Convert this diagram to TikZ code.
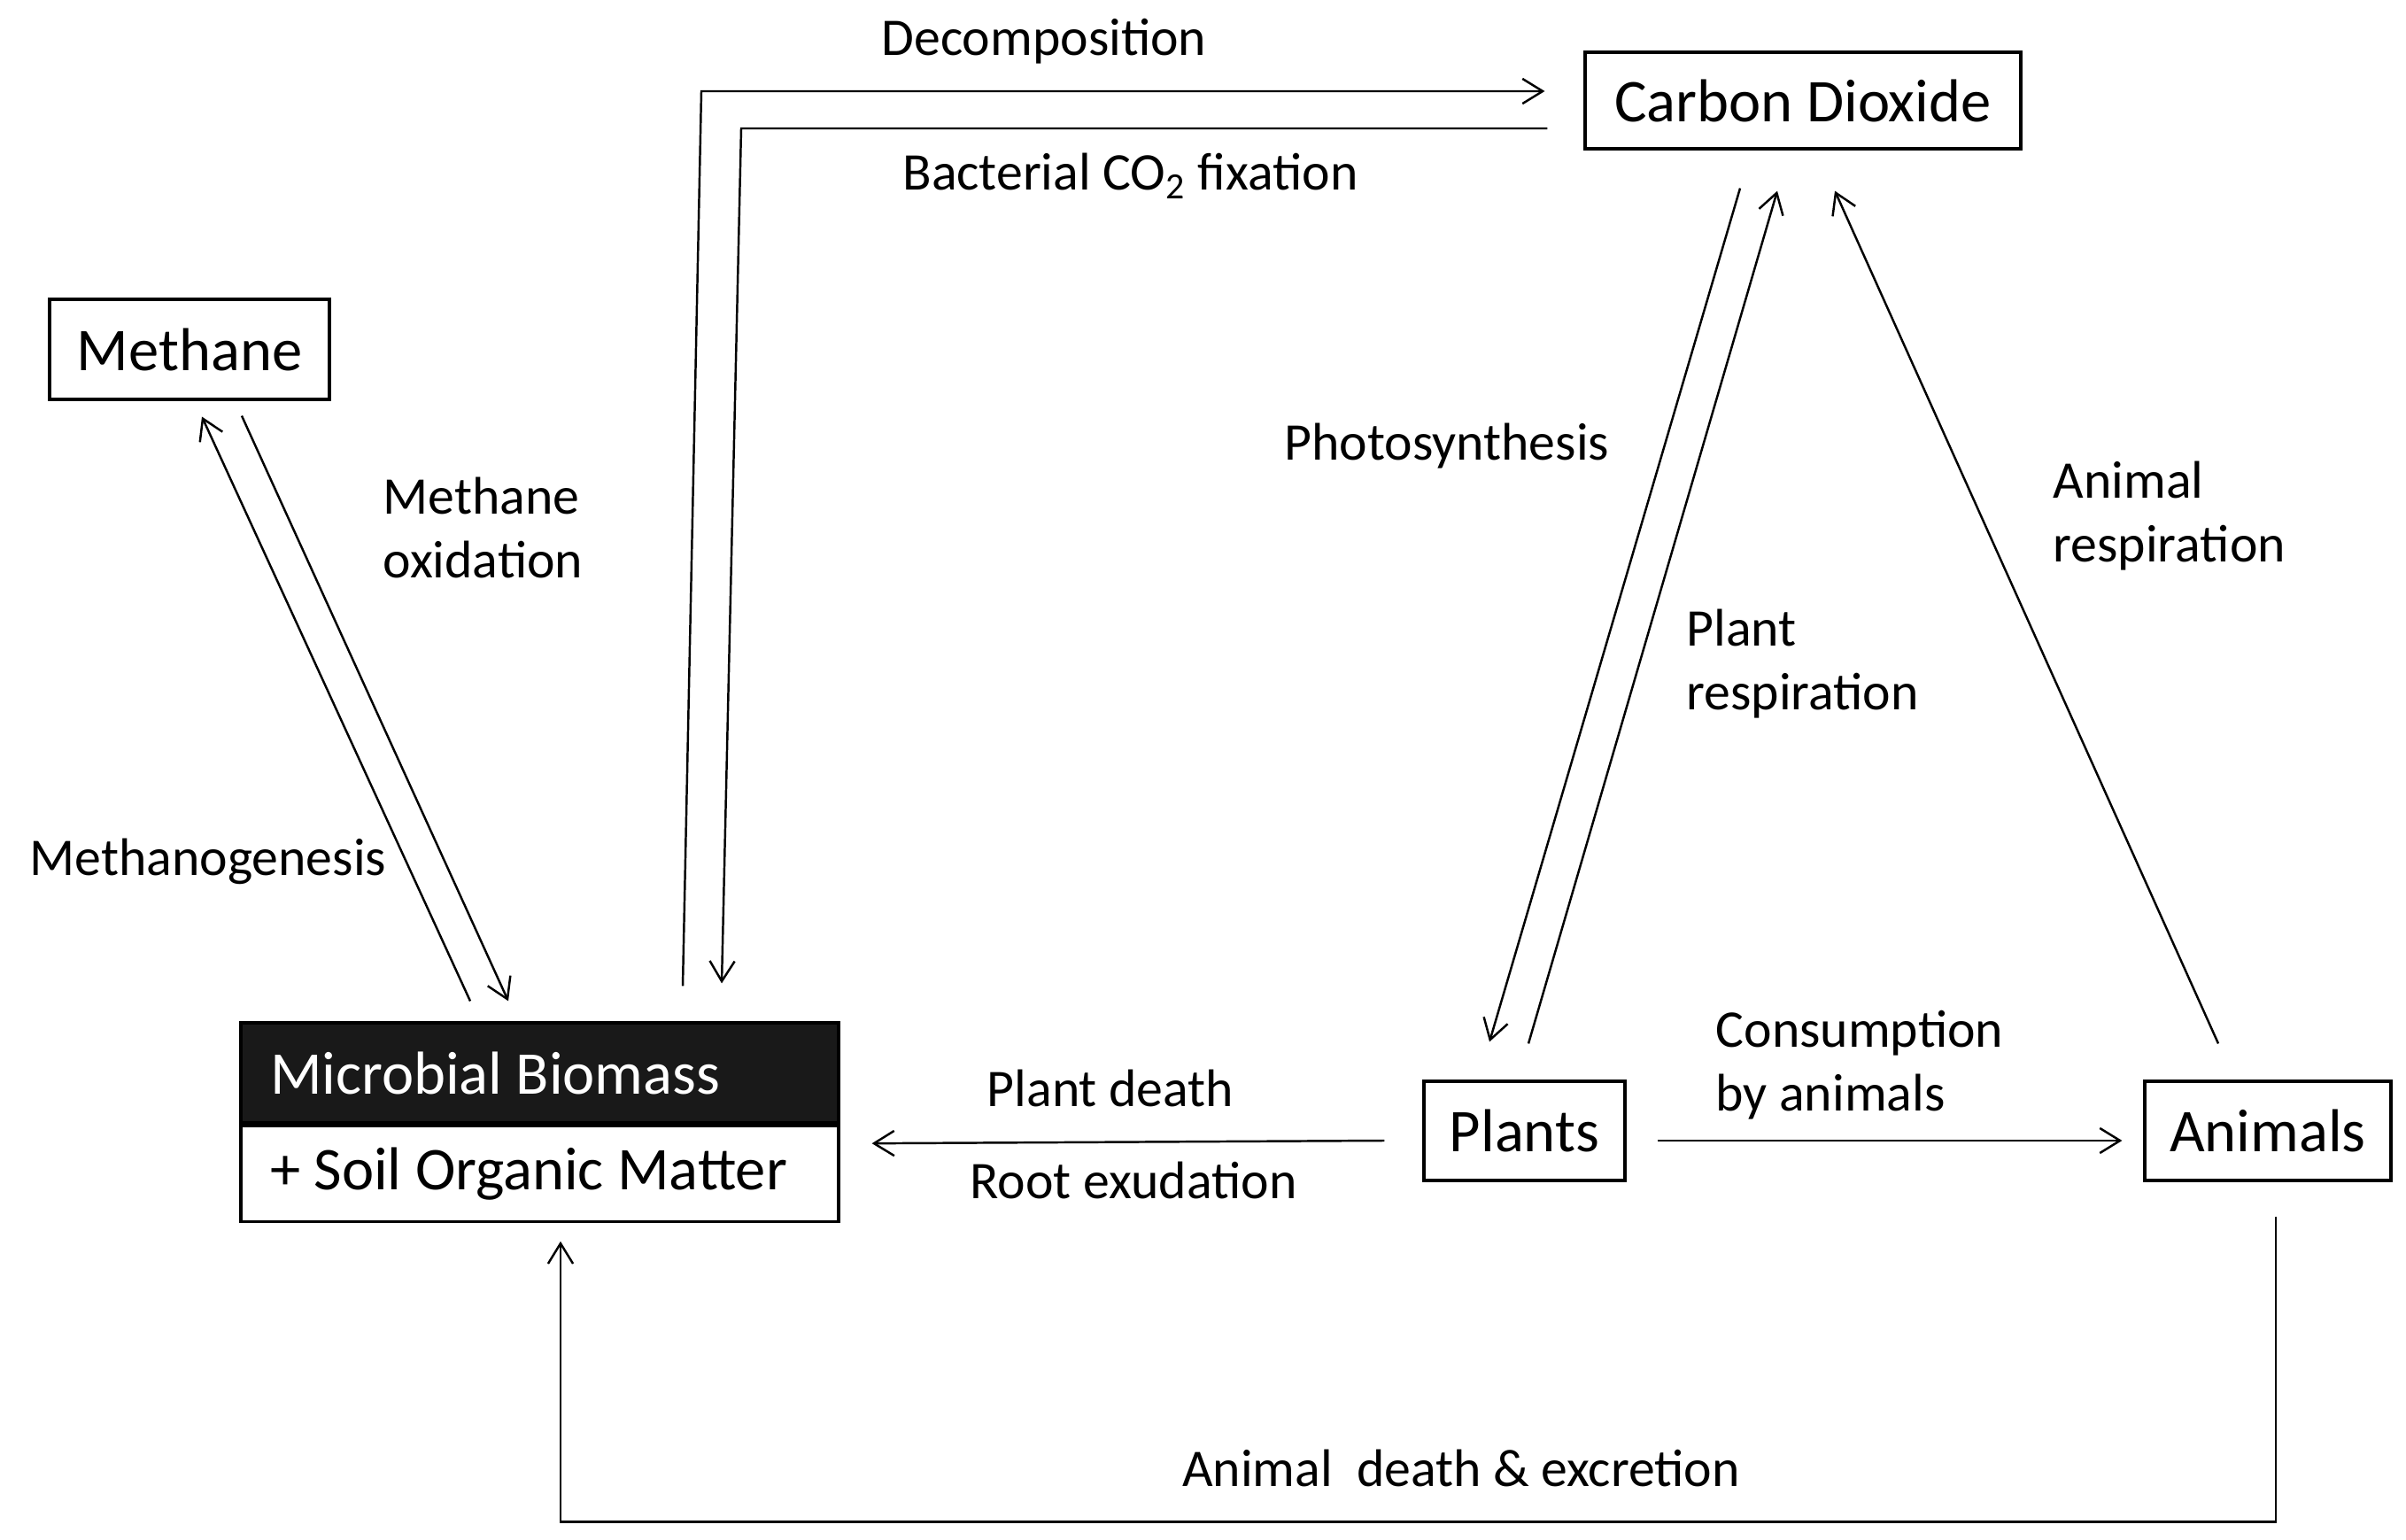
\documentclass[tikz,border=0pt]{standalone}
\usepackage{fontspec}
\setmainfont{Carlito}
\usepackage{tikz}
\usetikzlibrary{positioning}
\usetikzlibrary{calc,arrows.meta}

\tikzset{
	pool/.style={draw=black,line width=0.9pt,inner sep=0pt,font=\fontsize{19.5}{23}\selectfont},
	flow/.style={line width=0.7pt,-{Straight Barb[length=6.5pt,width=8pt,line width=0.7pt]}},
	lbl/.style={inner sep=0pt,align=left,font=\fontsize{17}{20.5}\selectfont}
}
\newcommand{\poolline}[1]{\makebox[6.09cm][l]{#1}}

\begin{document}
\begin{tikzpicture}
		\useasboundingbox (0,0) rectangle (27.17,-17.39);
		% pools
		\node[pool,minimum width=3.16cm,minimum height=1.13cm] (methane) at (2.14,-3.945) {Methane};
		\node[pool,minimum width=4.92cm,minimum height=1.09cm] (co2) at (20.36,-1.135) {Carbon Dioxide};
		\node[pool,fill=black!90,text=white,minimum width=6.75cm,minimum height=1.13cm] (mbtop) at (6.095,-12.115) {\poolline{Microbial Biomass}};
		\node[pool,minimum width=6.75cm,minimum height=1.08cm,below=0pt of mbtop] (mbsoil) {\poolline{+ Soil Organic Matter}};
		\node[pool,minimum width=2.27cm,minimum height=1.12cm] (plants) at (17.215,-12.77) {Plants};
		\node[pool,minimum width=2.78cm,minimum height=1.12cm] (animals) at (25.61,-12.77) {Animals};
		% soil <-> atmosphere
		\draw [flow] ($(mbtop.north)+(1.615cm,0.40cm)$) -- (7.92,-1.03) -- ($(co2.west)+(-0.44cm,0.105cm)$);
		\draw [flow] ($(co2.west)+(-0.41cm,-0.315cm)$) -- (8.37,-1.45) -- ($(mbtop.north)+(2.055cm,0.43cm)$);
		\draw [flow] ($(mbtop.north)+(-0.785cm,0.23cm)$) -- ($(methane.south)+(0.14cm,-0.18cm)$);
		\draw [flow] ($(methane.south)+(0.59cm,-0.17cm)$) -- ($(mbtop.north)+(-0.355cm,0.23cm)$);
		% plants and animals
		\draw [flow] ($(co2.south)+(-0.71cm,-0.43cm)$) -- ($(plants.north)+(-0.395cm,0.43cm)$);
		\draw [flow] ($(plants.north)+(0.045cm,0.41cm)$) -- ($(co2.south)+(-0.29cm,-0.46cm)$);
		\draw [flow] ($(animals.north)+(-0.56cm,0.41cm)$) -- ($(co2.south)+(0.36cm,-0.46cm)$);
		\draw [flow] ($(plants.west)+(-0.43cm,-0.11cm)$) -- ($(mbsoil.east)+(0.36cm,0.34cm)$);
		\draw [flow] ($(plants.east)+(0.35cm,-0.11cm)$) -- ($(animals.west)+(-0.24cm,-0.11cm)$);
		\draw [flow] ($(animals.south)+(0.09cm,-0.39cm)$) -- ++(0,-3.45) -| ($(mbsoil.south)+(0.235cm,-0.21cm)$);
		% labels
		\node[lbl,anchor=base] (decomp) at (11.79,-0.63) {Decomposition};
		\node[lbl,anchor=base] (fixation) at (12.765,-2.15) {Bacterial CO\textsubscript{2} fixation};
		\node[lbl,anchor=north west] (oxid) at (4.32,-5.38) {Methane\\oxidation};
		\node[lbl,anchor=base west] (methanogen) at (0.33,-9.89) {Methanogenesis};
		\node[lbl,anchor=base west] (photo) at (14.50,-5.20) {Photosynthesis};
		\node[lbl,anchor=north west] (plantresp) at (19.04,-6.87) {Plant\\respiration};
		\node[lbl,anchor=north west] (animresp) at (23.18,-5.20) {Animal\\respiration};
		\node[lbl,anchor=north west] (consum) at (19.37,-11.40) {Consumption\\by animals};
		\node[lbl,anchor=base] (death) at (12.54,-12.49) {Plant death};
		\node[lbl,anchor=base] (exud) at (12.80,-13.53) {Root exudation};
		\node[lbl,anchor=base] (excr) at (16.50,-16.78) {Animal\ \ death \& excretion};
	\end{tikzpicture}
\end{document}
